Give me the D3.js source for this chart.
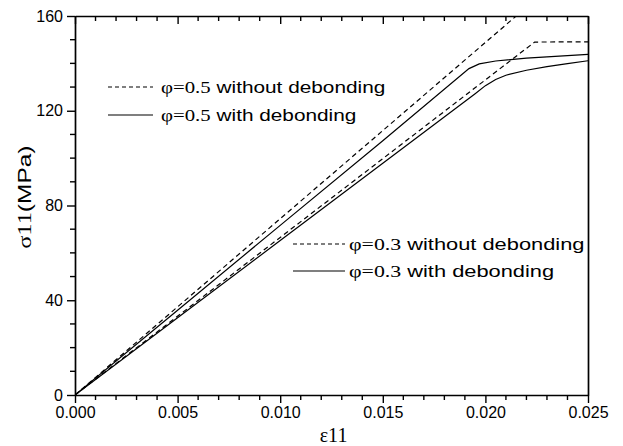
<!DOCTYPE html>
<html>
<head>
<meta charset="utf-8">
<script src="https://cdn.jsdelivr.net/npm/d3@7"></script>
<style>
  body { margin: 0; background: #fff; }
  svg { display: block; }
</style>
</head>
<body>
<div id="chart"></div>
<script>
// strain / stress values
var phi05NoDebond = [[0, 0], [0.0215, 160]];
var phi05Debond = [[0, 0], [0.005, 35.8], [0.010, 71.6], [0.015, 107.3], [0.0192, 137.8],
                   [0.0197, 139.8], [0.0205, 141], [0.022, 142.2], [0.025, 143.8]];
var phi03NoDebond = [[0, 0], [0.0224, 149], [0.025, 149.1]];
var phi03Debond = [[0, 0], [0.005, 32.6], [0.010, 65.2], [0.015, 97.8], [0.0195, 127.2],
                   [0.020, 130.6], [0.0205, 133.2], [0.021, 135], [0.022, 137.1],
                   [0.023, 138.6], [0.024, 139.9], [0.025, 141.1]];

var xMajor = [0, 0.005, 0.010, 0.015, 0.020, 0.025];
var yMajor = [0, 40, 80, 120, 160];

var legendTop = [
  {phi: "φ=0.5", text: " without debonding", dash: true},
  {phi: "φ=0.5", text: " with debonding", dash: false}
];
var legendBottom = [
  {phi: "φ=0.3", text: " without debonding", dash: true},
  {phi: "φ=0.3", text: " with debonding", dash: false}
];

var width = 623, height = 446,
    margin = {top: 16, right: 35, bottom: 51, left: 75};

var svg = d3.select("#chart").append("svg")
    .attr("width", width)
    .attr("height", height);

var x = d3.scaleLinear().domain([0, 0.025]).range([margin.left, width - margin.right]);
var y = d3.scaleLinear().domain([0, 160]).range([height - margin.bottom, margin.top]);

var sans = "Liberation Sans, Arial, sans-serif",
    serif = "Liberation Serif, Times New Roman, serif";

var xMinor = d3.range(0, 26).map(function(i) { return i / 1000; })
    .filter(function(v) { return Math.round(v * 1000) % 5 != 0; });
var yMinor = d3.range(0, 17).map(function(i) { return i * 10; })
    .filter(function(v) { return v % 40 != 0; });

// clip curves to the plot box
svg.append("clipPath").attr("id", "clip")
  .append("rect")
  .attr("x", x(0)).attr("y", y(160))
  .attr("width", x(0.025) - x(0)).attr("height", y(0) - y(160));

var line = d3.line()
    .x(function(d) { return x(d[0]); })
    .y(function(d) { return y(d[1]); });

var curves = [
  {data: phi05NoDebond, dash: true},
  {data: phi05Debond, dash: false},
  {data: phi03NoDebond, dash: true},
  {data: phi03Debond, dash: false}
];

svg.append("g").attr("clip-path", "url(#clip)")
  .selectAll("path")
  .data(curves)
  .enter().append("path")
  .attr("d", function(d) { return line(d.data); })
  .attr("fill", "none")
  .attr("stroke", "#000")
  .attr("stroke-width", 1.2)
  .attr("stroke-dasharray", function(d) { return d.dash ? "5,3.5" : null; });

function minorTicks(g, values, horizontal, len) {
  g.selectAll(".minor").data(values)
    .enter().append("line").attr("class", "minor")
    .attr("x1", function(d) { return horizontal ? x(d) : 0; })
    .attr("x2", function(d) { return horizontal ? x(d) : len; })
    .attr("y1", function(d) { return horizontal ? 0 : y(d); })
    .attr("y2", function(d) { return horizontal ? len : y(d); });
}

// bottom axis: outward ticks
var gx = svg.append("g")
  .attr("transform", "translate(0," + y(0) + ")")
  .call(d3.axisBottom(x).tickValues(xMajor).tickFormat(d3.format(".3f"))
    .tickSizeInner(8).tickSizeOuter(0).tickPadding(4));
gx.selectAll("text").attr("font-family", sans).attr("font-size", 16).attr("fill", "#000");
minorTicks(gx, xMinor, true, 5);

// left axis: outward ticks
var gy = svg.append("g")
  .attr("transform", "translate(" + x(0) + ",0)")
  .call(d3.axisLeft(y).tickValues(yMajor)
    .tickSizeInner(8).tickSizeOuter(0).tickPadding(4));
gy.selectAll("text").attr("font-family", sans).attr("font-size", 16).attr("fill", "#000");
minorTicks(gy, yMinor, false, -5);

// top axis: inward ticks, no labels
var gt = svg.append("g")
  .attr("transform", "translate(0," + y(160) + ")")
  .call(d3.axisBottom(x).tickValues(xMajor).tickFormat("").tickSizeInner(8).tickSizeOuter(0));
minorTicks(gt, xMinor, true, 5);

// right axis: plain line
svg.append("g")
  .attr("transform", "translate(" + x(0.025) + ",0)")
  .call(d3.axisRight(y).tickValues([]).tickSizeOuter(0));

svg.selectAll(".domain").attr("stroke", "#000").attr("stroke-width", 1.7);
svg.selectAll(".tick line, line.minor").attr("stroke", "#000").attr("stroke-width", 1.4);

// axis titles
svg.append("text")
  .attr("x", x(0.0126)).attr("y", 442)
  .attr("text-anchor", "middle")
  .attr("font-family", serif).attr("font-size", 20)
  .text("ε11");

var ylab = svg.append("text")
  .attr("transform", "translate(31," + y(83.5) + ") rotate(-90) scale(1.36,1)")
  .attr("text-anchor", "middle")
  .attr("font-size", 18);
ylab.append("tspan").attr("font-family", serif).text("σ11");
ylab.append("tspan").attr("font-family", sans).text("(MPa)");

// legends (text is drawn a bit wide, as in the figure)
function drawLegend(items, x0, y0, lineLen, gap, rowH, size) {
  var g = svg.append("g").attr("transform", "translate(" + x0 + "," + y0 + ")");
  var rows = g.selectAll("g").data(items).enter().append("g")
    .attr("transform", function(d, i) { return "translate(0," + i * rowH + ")"; });
  rows.append("line")
    .attr("x1", 0).attr("x2", lineLen).attr("y1", 0).attr("y2", 0)
    .attr("stroke", "#000").attr("stroke-width", 1.2)
    .attr("stroke-dasharray", function(d) { return d.dash ? "4,3" : null; });
  var t = rows.append("text")
    .attr("transform", "translate(" + (lineLen + gap) + ",6) scale(1.3,1)")
    .attr("font-size", size);
  t.append("tspan").attr("font-family", serif).text(function(d) { return d.phi; });
  t.append("tspan").attr("font-family", sans).text(function(d) { return d.text; });
}

drawLegend(legendTop, 108, 87, 45, 8, 28, 16);
drawLegend(legendBottom, 293, 244, 52, 4, 27, 16.8);
</script>
</body>
</html>
